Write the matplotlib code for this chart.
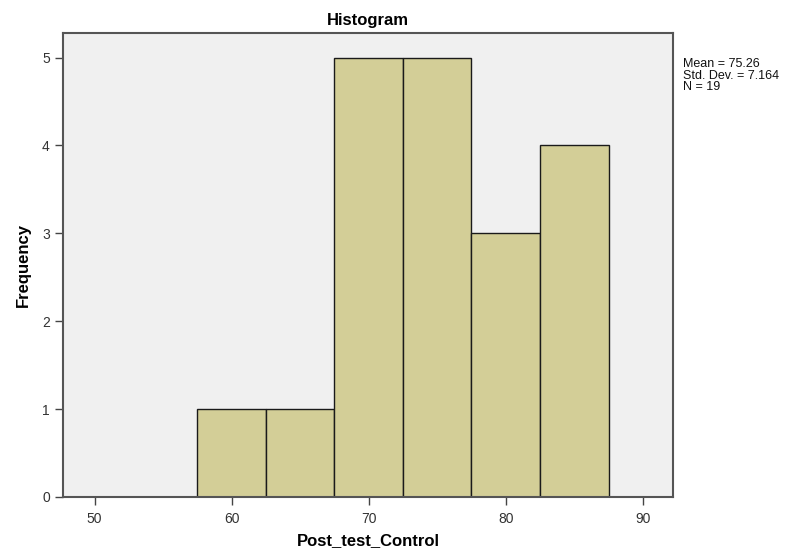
import matplotlib
matplotlib.use("Agg")
import matplotlib.pyplot as plt

bin_edges = [57.5, 62.5, 67.5, 72.5, 77.5, 82.5, 87.5]
counts = [1, 1, 5, 5, 3, 4]
x_ticks = [50, 60, 70, 80, 90]
y_ticks = [0, 1, 2, 3, 4, 5]
stats_text = "Mean = 75.26\nStd. Dev. = 7.164\nN = 19"

plt.rcParams['font.family'] = ['Liberation Sans', 'DejaVu Sans']

fig = plt.figure(figsize=(8.08, 5.59), dpi=100)
ax = fig.add_axes([63/808, 1-497/559, (673-63)/808, (497-33)/559])
ax.set_facecolor('#F0F0F0')

lefts = bin_edges[:-1]
widths = [bin_edges[i+1]-bin_edges[i] for i in range(len(counts))]
ax.bar(lefts, counts, width=widths, align='edge', color='#D3CE97',
       edgecolor='#1a1a1a', linewidth=1.0, zorder=2)

ax.set_xlim(47.7, 92.2)
ax.set_ylim(0, 5.28)
ax.set_xticks(x_ticks)
ax.set_yticks(y_ticks)
for s in ax.spines.values():
    s.set_color('#555555')
    s.set_linewidth(1.5)
ax.tick_params(axis='both', direction='out', length=6, width=1.0,
               colors='#444444', labelsize=10, labelcolor='#333333')
ax.tick_params(axis='x', pad=5)

ax.set_title('Histogram', fontsize=12, fontweight='bold', pad=6)
ax.set_xlabel('Post_test_Control', fontsize=12, fontweight='bold', labelpad=5)
ax.set_ylabel('Frequency', fontsize=12, fontweight='bold', labelpad=8)

fig.text(683/808, 1-58/559, stats_text, fontsize=9, va='top', ha='left',
         linespacing=0.95, color='#111111')

fig.savefig('out.png', dpi=100)
